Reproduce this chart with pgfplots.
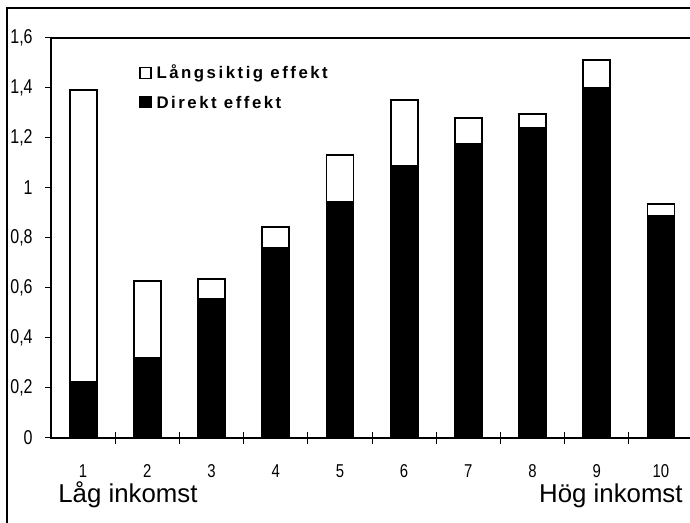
\documentclass[border=0pt]{standalone}
\usepackage{fontspec}
\setmainfont{Liberation Sans}
\newfontfamily\narrow[FakeStretch=0.8]{Liberation Sans}
\newfontfamily\legfont[LetterSpace=15]{Liberation Sans}
\usepackage{pgfplots}
\pgfplotsset{compat=1.18}

% direct effect (black) and long-run addition (white)
\pgfplotstableread{
dec direkt lang
1  0.225 1.167
2  0.321 0.308
3  0.555 0.082
4  0.761 0.084
5  0.945 0.188
6  1.089 0.263
7  1.176 0.104
8  1.241 0.054
9  1.400 0.111
10 0.889 0.046
}\effekt

\begin{document}
\begin{tikzpicture}
\useasboundingbox (0,0) rectangle (345pt,261.5pt);
\clip (0,0) rectangle (345pt,261.5pt);
\draw[line width=0.6pt] (3.5pt,-1pt) -- (3.5pt,257.5pt) -- (346pt,257.5pt);
\begin{axis}[
    at={(25.5pt,42.5pt)}, anchor=south west,
    scale only axis, width=321pt, height=200pt,
    ybar stacked, bar width=13.5pt,
    xmin=0.5, xmax=10.5, ymin=0, ymax=1.6,
    axis line style={line width=0.6pt},
    xtick={1,...,10}, minor xtick={1.5,2.5,...,9.5},
    ytick={0,0.2,...,1.6},
    xtick pos=bottom, ytick pos=left,
    tick align=outside,
    major tick length=3pt, minor tick length=6pt,
    major x tick style={draw=none},
    every minor x tick/.append style={yshift=3pt},
    tick style={line width=0.5pt, black},
    /pgf/number format/.cd, use comma, fixed, precision=1, assume math mode=true,
    /pgfplots/.cd,
    tick label style={font=\narrow\fontsize{10}{12}\selectfont, inner sep=0pt},
    yticklabel style={xshift=-6pt},
    xticklabel style={yshift=-10pt, font=\narrow\fontsize{9.3}{11}\selectfont},
    legend image code/.code={\draw[#1, line width=0.6pt] (0pt,-2.75pt) rectangle (5.5pt,2.75pt);},
    reverse legend, legend cell align=left,
    legend style={at={(0.137,0.93)}, anchor=north west, draw=none, fill=none,
        inner sep=0pt, row sep=8.5pt,
        font=\legfont\bfseries\fontsize{8.4}{10}\selectfont,
        nodes={inner xsep=2.5pt, inner ysep=0pt, text height=6.3pt, text depth=0pt}},
]
\addplot[fill=black, draw=black, line width=0.9pt] table[x=dec, y=direkt] {\effekt};
\addplot[fill=white, draw=black, line width=0.9pt] table[x=dec, y=lang] {\effekt};
\legend{Direkt effekt, Långsiktig effekt}
\end{axis}
\node[anchor=base west, inner sep=0pt, font=\fontsize{12.9}{15}\selectfont] at (29pt,10pt) {Låg inkomst};
\node[anchor=base east, inner sep=0pt, font=\fontsize{12.9}{15}\selectfont] at (341.5pt,10pt) {Hög inkomst};
\end{tikzpicture}
\end{document}
